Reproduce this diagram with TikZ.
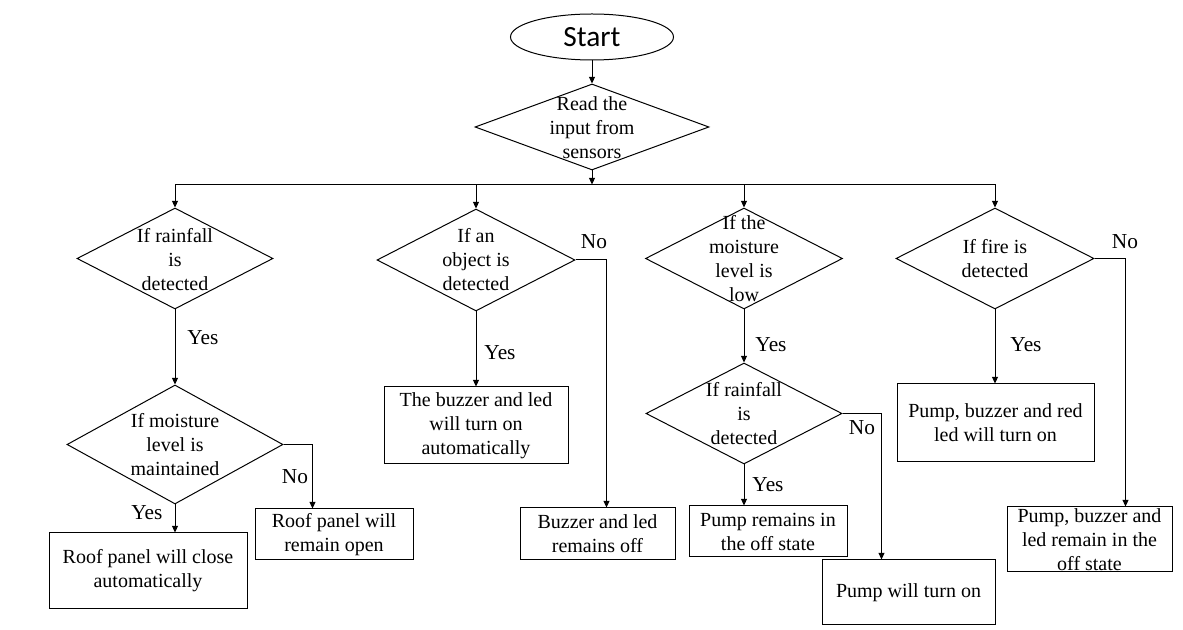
\documentclass[tikz,border=0pt]{standalone}
\usepackage{fontspec}
\setmainfont{Liberation Serif}
\newfontfamily\serifface{Liberation Serif}
\newfontfamily\startfont{Carlito}
\usetikzlibrary{shapes.geometric,arrows.meta,calc}
\begin{document}
\begin{tikzpicture}[x=0.75pt,y=-0.75pt,
  line width=0.75pt,
  arr/.style={-{Triangle[length=5pt,width=4.5pt]}},
  dia/.style={draw,diamond,inner sep=0pt},
  dtext/.style={align=center,inner sep=0pt,font=\serifface\fontsize{15}{18}\selectfont},
  box/.style={draw,rectangle,inner sep=0pt,align=center,font=\serifface\fontsize{15}{18}\selectfont},
  yn/.style={inner sep=0pt,font=\serifface\fontsize{16}{19}\selectfont}]
\fill[white] (0,0) rectangle (1183,630);
\useasboundingbox (0,0) rectangle (1183,630);

% start and read
\node[draw,ellipse,minimum width=122.25pt,minimum height=34.5pt,inner sep=0pt,font=\startfont\fontsize{22}{26}\selectfont] (start) at (592,37) {Start};
\node[dia,minimum width=175.5pt,minimum height=64.5pt] (d0) at (592,127) {};
\node[dtext] (t0) at (592,128) {Read the\\input from\\sensors};

% decision diamonds
\node[dia,minimum width=147pt,minimum height=75.75pt] (d1) at (175,258.5) {};
\node[dtext] (t1) at (175,260) {If rainfall\\is\\detected};
\node[dia,minimum width=162pt,minimum height=89.25pt] (d5) at (175,444.5) {};
\node[dtext] (t5) at (d5) {If moisture\\level is\\maintained};
\node[dia,minimum width=148.5pt,minimum height=76.5pt] (d2) at (476,260) {};
\node[dtext] (t2) at (d2) {If an\\object is\\detected};
\node[dia,minimum width=147.75pt,minimum height=75.75pt] (d3) at (744,258.5) {};
\node[dtext] (t3) at (744,259) {If the\\moisture\\level is\\low};
\node[dia,minimum width=147pt,minimum height=75.75pt] (d6) at (744,413.5) {};
\node[dtext] (t6) at (744,414) {If rainfall\\is\\detected};
\node[dia,minimum width=148.5pt,minimum height=75.75pt] (d4) at (995,258.5) {};
\node[dtext] (t4) at (d4) {If fire is\\detected};

% boxes
\node[box,minimum width=148.5pt,minimum height=57pt] (b1) at (148,571) {Roof panel will close\\automatically};
\node[box,minimum width=118.5pt,minimum height=38.25pt] (b2) at (334,534.5) {Roof panel will\\remain open};
\node[box,minimum width=138pt,minimum height=57.75pt] (b3) at (476,425.5) {The buzzer and led\\will turn on\\automatically};
\node[box,minimum width=116.25pt,minimum height=39pt] (b4) at (597.5,534) {Buzzer and led\\remains off};
\node[box,minimum width=118.5pt,minimum height=38.25pt] (b5) at (768,531.5) {Pump remains in\\the off state};
\node[box,minimum width=129.75pt,minimum height=48.75pt] (b6) at (908.5,592.5) {Pump will turn on};
\node[box,minimum width=147.75pt,minimum height=58.5pt] (b7) at (995.5,423) {Pump, buzzer and red\\led will turn on};
\node[box,minimum width=123.75pt,minimum height=48.75pt] (b8) at (1089.5,539.5) {};
\node[dtext] (t8) at (b8) {Pump, buzzer and\\led remain in the\\off state};

% connectors
\draw[arr] (start.south) -- (d0.north);
\coordinate (hub) at ($(d0.south)+(0,14)$);
\draw[arr] (d0.south) -- (hub);
\draw (hub -| d1.north) -- (hub -| d4.north);
\foreach \d in {d1,d2,d3,d4} \draw[arr] (hub -| \d.north) -- (\d.north);

\draw[arr] (d1.south) -- (d5.north);
\draw[arr] (d5.south) -- (d5.south |- b1.north);
\draw[arr] (d5.east) -| ($(b2.north west)+(58,0)$);
\draw[arr] (d2.south) -- (b3.north);
\draw[arr] (d2.east) -| ($(b4.north west)+(87,0)$);
\draw[arr] (d3.south) -- (d6.north);
\draw[arr] (d6.south) -- (d6.south |- b5.north);
\draw[arr] (d6.east) -| ($(b6.north west)+(60,0)$);
\draw[arr] (d4.south) -- (d4.south |- b7.north);
\draw[arr] (d4.east) -| ($(b8.north west)+(119,0)$);

% labels
\node[yn] (y1) at (203,338) {Yes};
\node[yn] (y5) at (147,513) {Yes};
\node[yn] (n5) at (295,477) {No};
\node[yn] (y2) at (500,353) {Yes};
\node[yn] (n2) at (594,242) {No};
\node[yn] (y3) at (771,345) {Yes};
\node[yn] (y6) at (768,485) {Yes};
\node[yn] (n6) at (862,428) {No};
\node[yn] (y4) at (1026,345) {Yes};
\node[yn] (n4) at (1125,242) {No};
\end{tikzpicture}
\end{document}
